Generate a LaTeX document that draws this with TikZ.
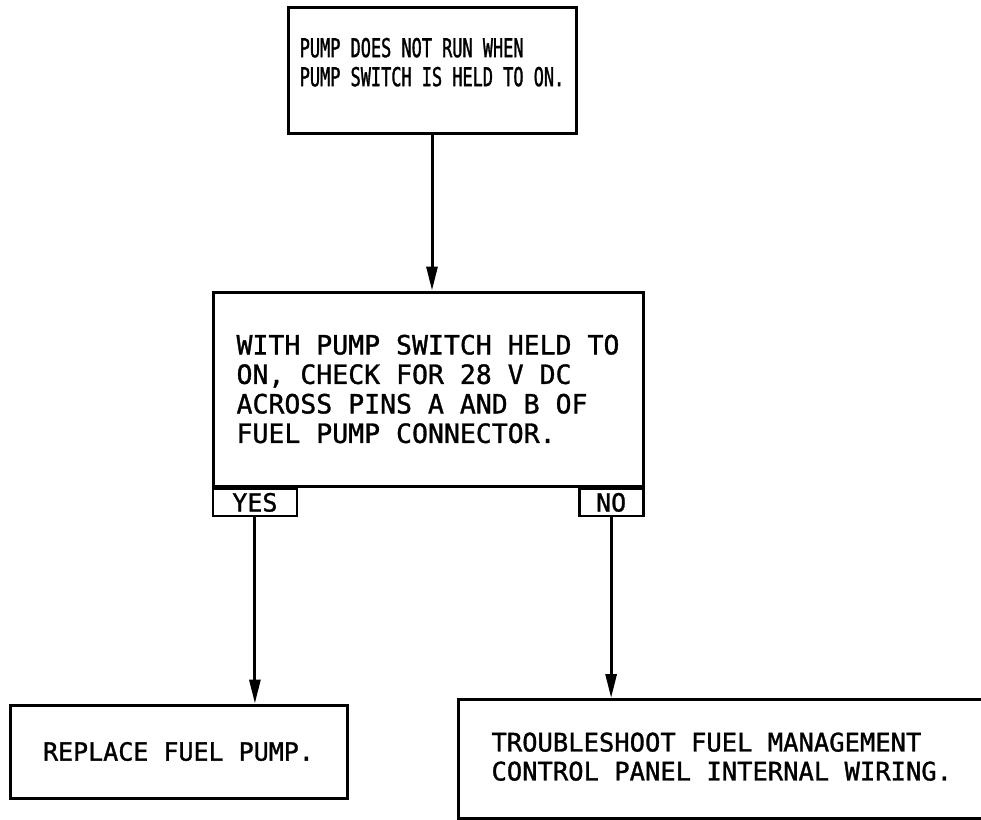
\documentclass[tikz,border=0pt]{standalone}
\usepackage{fontspec}
\newfontfamily\leroy[FakeBold=1.2]{DejaVu Sans Mono}
\newfontfamily\narrowmono[FakeStretch=0.65,FakeBold=1.2]{DejaVu Sans Mono}
\usetikzlibrary{arrows.meta}

\begin{document}
\begin{tikzpicture}[x=1pt, y=-1pt,
  box/.style={rectangle, draw, line width=3pt, align=left, inner sep=0pt,
              font=\leroy\fontsize{26.5}{29.5}\selectfont},
  tab/.style={rectangle, draw, line width=2.8pt, inner sep=0pt, minimum height=27pt,
              font=\leroy\fontsize{25}{26}\selectfont},
  arr/.style={line width=3pt, -{Triangle[length=24pt,width=11pt]}},
]
\useasboundingbox (0,0) rectangle (981,819);
\clip (0,0) rectangle (981,819);
\node[box, minimum width=288pt, minimum height=126pt, text depth=16pt,
      font=\narrowmono\fontsize{26}{29}\selectfont] (pump) at (432,70)
      {PUMP DOES NOT RUN WHEN\\PUMP SWITCH IS HELD TO ON.};
\node[box, minimum width=430pt, minimum height=194pt] (check) at (428,389)
      {WITH PUMP SWITCH HELD TO\\ON, CHECK FOR 28 V DC\\ACROSS PINS A AND B OF\\FUEL PUMP CONNECTOR.};
\node[tab, minimum width=84pt, anchor=north west] (yes) at (check.south west) {YES};
\node[tab, minimum width=64pt, anchor=north east] (no) at (check.south east) {NO};
\node[box, minimum width=337pt, minimum height=93pt,
      font=\leroy\fontsize{25}{29}\selectfont] (replace) at (178.5,751.5)
      {REPLACE FUEL PUMP.};
% right side of this box runs off the sheet
\node[box, anchor=north west, minimum width=545pt, minimum height=119pt,
      text width=479pt, inner xsep=33pt, text depth=34pt,
      font=\leroy\fontsize{25.5}{29}\selectfont] (trouble) at (457,698)
      {\spaceskip=0pt TROUBLESHOOT FUEL MANAGEMENT\\CONTROL PANEL INTERNAL WIRING.};
\draw[arr] (pump.south) -- (pump.south |- check.north);
\draw[arr] (yes.south) -- (yes.south |- replace.north);
\draw[arr] (no.south) -- (no.south |- trouble.north);
\end{tikzpicture}
\end{document}
